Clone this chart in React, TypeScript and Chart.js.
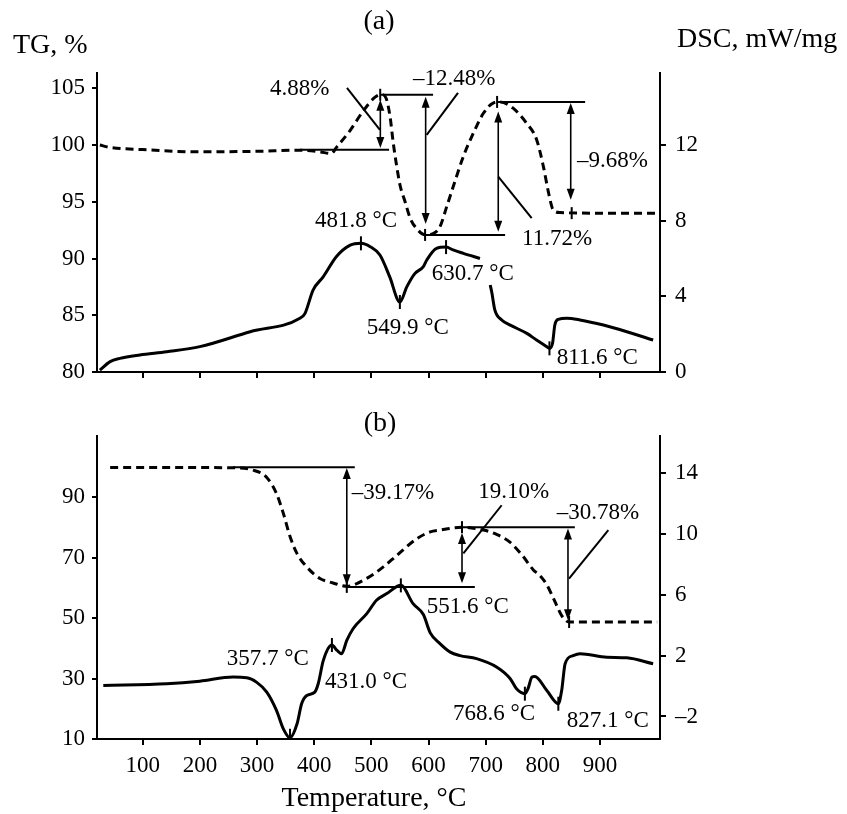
import React, { useEffect, useRef } from 'react';
import { Chart, registerables } from 'chart.js';

Chart.register(...registerables);

const FONT = '"Liberation Serif", "Times New Roman", serif';

// ---------- shared x axis ----------
const X_MIN = 20;
const X_MAX = 1005;
const X_TICKS = [100, 200, 300, 400, 500, 600, 700, 800, 900];

// ---------- panel (a) data ----------
const A_TG_T = [25, 42, 100, 200, 300, 375, 410, 430, 439, 463, 485, 506, 518, 526, 533, 538, 544, 550, 559, 568, 579, 594, 608, 620, 632, 643, 661, 678, 696, 713, 725, 748, 772, 789, 801, 810, 818, 830, 900, 1000];
const A_TG_V = [100, 99.8, 99.6, 99.4, 99.45, 99.55, 99.4, 99.25, 99.8, 101.3, 102.95, 104.2, 104.45, 104.1, 102.4, 100.3, 98.25, 96.5, 95.0, 93.55, 92.65, 92.1, 92.2, 92.8, 94.6, 96.3, 99.0, 101.0, 102.8, 103.7, 103.8, 103.25, 101.9, 100.5, 98.1, 95.8, 94.3, 94.05, 94.0, 94.0];

const A_DSC_T = [25, 43, 60, 95, 142, 200, 288, 375, 384, 398, 416, 439, 463, 481.8, 498, 515, 532, 549.9, 562, 576, 591, 597, 614, 630.7, 643, 661, 690, 699, 708, 711, 716, 728, 743, 772, 789, 807, 811.6, 817, 821, 827, 842, 865, 906, 947, 993];
const A_DSC_V = [0.1, 0.55, 0.72, 0.9, 1.07, 1.34, 2.13, 2.84, 3.1, 4.33, 5.04, 6.1, 6.7, 6.8, 6.62, 6.18, 5.04, 3.7, 4.5, 5.2, 5.57, 5.92, 6.53, 6.6, 6.45, 6.27, 6.0, null, 4.6, 4.16, 3.28, 2.75, 2.48, 2.04, 1.69, 1.34, 1.25, 1.52, 2.48, 2.78, 2.84, 2.75, 2.48, 2.13, 1.69];

const A_LEFT_TICKS = [80, 85, 90, 95, 100, 105];
const A_RIGHT_TICKS = [0, 4, 8, 12];

// annotations (a): [y, x1, x2] on TG axis
const A_HLINES = [[99.58, 375, 531], [104.43, 515, 608], [92.08, 594, 734], [103.8, 720, 874]];
// arrows: [x, y1, y2]
const A_ARROWS = [[515.7, 103.99, 99.75], [595, 104.25, 93.05], [722, 102.95, 92.37], [848.8, 103.7, 95.17]];
// leader lines: [x1, y1, x2, y2]
const A_LEADERS = [[457.3, 105.04, 515, 101.34], [596.8, 100.9, 651.6, 104.6], [722, 97.22, 780.5, 93.55]];
const A_TG_MARKS = [[515.5, 104.43], [594, 92.08], [720, 103.8], [850.5, 94.0]];
const A_DSC_MARKS = [[481.8, 6.8, 'both'], [549.9, 3.7, 'both'], [630.7, 6.6, 'both'], [811.6, 1.25, 'both']];
// labels: [text, x, yTG]
const A_LABELS = [
  ['4.88%', 322.7, 104.96],
  ['\u201312.48%', 572.9, 105.84],
  ['\u20139.68%', 860, 98.6],
  ['11.72%', 763.6, 91.7],
  ['481.8 \u00B0C', 401.4, 93.27],
  ['549.9 \u00B0C', 491.9, 83.92],
  ['630.7 \u00B0C', 605.6, 88.64],
  ['811.6 \u00B0C', 824.3, 81.21],
];

// ---------- panel (b) data ----------
const B_TG_T = [43, 142, 258, 293, 317, 334, 346, 358, 370, 387, 410, 433, 457, 492, 521, 545, 580, 603, 620, 658, 696, 720, 743, 765, 783, 795, 807, 821, 833, 846, 900, 1000];
const B_TG_V = [99.8, 99.8, 99.7, 98.9, 96.5, 91.2, 84.6, 76.8, 71.3, 66.9, 63.1, 61.6, 60.5, 63.1, 66.9, 70.8, 76.3, 78.5, 79.1, 80.0, 79.1, 77.6, 75.0, 70.5, 66.0, 64.0, 61.0, 55.5, 50.8, 48.7, 48.7, 48.7];

const B_DSC_T = [31, 142, 200, 258, 282, 299, 317, 334, 346, 357.7, 370, 378, 387, 401, 407, 416, 431, 440, 448, 457, 468, 492, 509, 527, 551.6, 573, 591, 603, 620, 638, 655, 684, 719, 743, 754, 768.6, 774, 781, 786, 807, 827.1, 833, 839, 853, 865, 912, 947, 993];
const B_DSC_V = [0.04, 0.15, 0.32, 0.59, 0.55, 0.26, -0.4, -1.6, -2.81, -3.4, -2.48, -1.16, -0.62, -0.4, 0.15, 1.69, 2.7, 2.34, 2.13, 3.0, 3.77, 4.76, 5.64, 6.08, 6.62, 5.42, 4.7, 3.5, 2.79, 2.23, 2.0, 1.8, 1.25, 0.48, -0.18, -0.5, -0.18, 0.59, 0.63, -0.29, -1.16, -0.29, 1.47, 2.0, 2.13, 1.9, 1.86, 1.47];

const B_LEFT_TICKS = [10, 30, 50, 70, 90];
const B_RIGHT_TICKS = [-2, 2, 6, 10, 14];

const B_HLINES = [[99.83, 258, 471], [60.3, 457, 681], [80.05, 655, 856]];
const B_ARROWS = [[457, 99.6, 60.85], [658.6, 78.1, 61.5], [844, 79.6, 49.25]];
const B_LEADERS = [[661, 71.35, 728, 87.3], [845.8, 63.06, 914.6, 79.06]];
const B_TG_MARKS = [[457, 60.3], [658.6, 80.05], [846, 48.7]];
const B_DSC_MARKS = [[357.7, -3.4, 'up'], [431, 2.7, 'both'], [551.6, 6.62, 'both'], [768.6, -0.5, 'both'], [827.1, -1.16, 'both']];
const B_LABELS = [
  ['\u201339.17%', 465.6, 91.5],
  ['19.10%', 687, 91.75],
  ['\u201330.78%', 824.3, 84.86],
  ['357.7 \u00B0C', 247, 36.57],
  ['431.0 \u00B0C', 418.9, 28.8],
  ['551.6 \u00B0C', 596.8, 53.66],
  ['768.6 \u00B0C', 643, 18.35],
  ['827.1 \u00B0C', 841.8, 16.13],
];

// ---------- helpers ----------
const pts = (xs: number[], ys: (number | null)[]) => xs.map((x, i) => ({ x, y: ys[i] }));

const fmt = (v: number) => (v < 0 ? '\u2013' + Math.abs(v) : String(v));

function annotPlugin(a: any) {
  return {
    id: 'annot' + a.key,
    afterDatasetsDraw(chart: any) {
      const ctx = chart.ctx as CanvasRenderingContext2D;
      const sx = chart.scales.x;
      const yl = chart.scales.yL;
      const yr = chart.scales.yR;
      const X = (v: number) => sx.getPixelForValue(v);
      const YL = (v: number) => yl.getPixelForValue(v);
      const YR = (v: number) => yr.getPixelForValue(v);
      ctx.save();
      ctx.strokeStyle = '#000';
      ctx.fillStyle = '#000';
      ctx.lineWidth = 2;
      ctx.setLineDash([]);
      const seg = (x1: number, y1: number, x2: number, y2: number) => {
        ctx.beginPath();
        ctx.moveTo(x1, y1);
        ctx.lineTo(x2, y2);
        ctx.stroke();
      };
      for (const h of a.hlines) seg(X(h[1]), YL(h[0]), X(h[2]), YL(h[0]));
      for (const l of a.leaders) seg(X(l[0]), YL(l[1]), X(l[2]), YL(l[3]));
      const head = (x: number, tipY: number, dir: number) => {
        ctx.beginPath();
        ctx.moveTo(x, tipY);
        ctx.lineTo(x - 4, tipY + dir * 11);
        ctx.lineTo(x + 4, tipY + dir * 11);
        ctx.closePath();
        ctx.fill();
      };
      for (const ar of a.arrows) {
        const px = X(ar[0]);
        const p1 = YL(ar[1]);
        const p2 = YL(ar[2]);
        const top = Math.min(p1, p2);
        const bot = Math.max(p1, p2);
        ctx.lineWidth = 1.6;
        seg(px, top + 6, px, bot - 6);
        head(px, top, 1);
        head(px, bot, -1);
        ctx.lineWidth = 2;
      }
      for (const m of a.tgMarks) {
        const px = X(m[0]);
        const py = YL(m[1]);
        seg(px, py - 6, px, py + 6);
      }
      for (const m of a.dscMarks) {
        const px = X(m[0]);
        const py = YR(m[1]);
        if (m[2] === 'up') seg(px, py - 9, px, py);
        else seg(px, py - 7, px, py + 7);
      }
      ctx.font = '23px ' + FONT;
      ctx.textAlign = 'left';
      ctx.textBaseline = 'middle';
      for (const t of a.labels) ctx.fillText(t[0], X(t[1]), YL(t[2]));
      ctx.restore();
    },
    afterDraw(chart: any) {
      const ctx = chart.ctx as CanvasRenderingContext2D;
      ctx.save();
      ctx.fillStyle = '#000';
      ctx.font = '28px ' + FONT;
      ctx.textBaseline = 'alphabetic';
      for (const t of a.texts) {
        ctx.textAlign = t[3];
        ctx.fillText(t[0], t[1], t[2]);
      }
      ctx.restore();
    },
  };
}

function makeConfig(p: any): any {
  const tickFont = { family: FONT, size: 23 };
  return {
    type: 'line',
    data: {
      datasets: [
        {
          data: pts(p.tgT, p.tgV),
          yAxisID: 'yL',
          borderColor: '#000',
          borderWidth: 3,
          borderDash: [8, 5],
          pointRadius: 0,
          cubicInterpolationMode: 'monotone',
          fill: false,
          spanGaps: false,
        },
        {
          data: pts(p.dscT, p.dscV),
          yAxisID: 'yR',
          borderColor: '#000',
          borderWidth: 3,
          pointRadius: 0,
          cubicInterpolationMode: 'monotone',
          fill: false,
          spanGaps: false,
        },
      ],
    },
    options: {
      responsive: false,
      animation: false,
      devicePixelRatio: 1,
      layout: { padding: { top: p.padTop, left: 0, right: 0, bottom: 0 } },
      plugins: { legend: { display: false }, tooltip: { enabled: false }, title: { display: false } },
      events: [],
      scales: {
        x: {
          type: 'linear',
          min: X_MIN,
          max: X_MAX,
          afterBuildTicks: (s: any) => {
            s.ticks = X_TICKS.map((v) => ({ value: v }));
          },
          afterFit: (s: any) => {
            s.height = p.xH;
          },
          ticks: {
            autoSkip: false,
            maxRotation: 0,
            padding: 7,
            color: '#000',
            font: tickFont,
            callback: (v: number) => (p.showX ? String(v) : ''),
          },
          grid: { display: true, drawOnChartArea: false, drawTicks: true, tickLength: 6, color: '#000', lineWidth: 2 },
          border: { display: true, color: '#000', width: 2 },
        },
        yL: {
          type: 'linear',
          position: 'left',
          min: p.lMin,
          max: p.lMax,
          afterBuildTicks: (s: any) => {
            s.ticks = p.lTicks.map((v: number) => ({ value: v }));
          },
          afterFit: (s: any) => {
            s.width = 97;
          },
          ticks: { padding: 7, color: '#000', font: tickFont, callback: (v: number) => fmt(v) },
          grid: { display: true, drawOnChartArea: false, drawTicks: true, tickLength: 5, color: '#000', lineWidth: 2 },
          border: { display: true, color: '#000', width: 2 },
        },
        yR: {
          type: 'linear',
          position: 'right',
          min: p.rMin,
          max: p.rMax,
          afterBuildTicks: (s: any) => {
            s.ticks = p.rTicks.map((v: number) => ({ value: v }));
          },
          afterFit: (s: any) => {
            s.width = 187;
          },
          ticks: { padding: 9, color: '#000', font: tickFont, callback: (v: number) => fmt(v) },
          grid: { display: true, drawOnChartArea: false, drawTicks: true, tickLength: 6, color: '#000', lineWidth: 2 },
          border: { display: true, color: '#000', width: 2 },
        },
      },
    },
    plugins: [annotPlugin(p.annot)],
  };
}

const PANEL_A = {
  tgT: A_TG_T,
  tgV: A_TG_V,
  dscT: A_DSC_T,
  dscV: A_DSC_V,
  lMin: 80,
  lMax: 106.35,
  rMin: 0,
  rMax: 15.8,
  lTicks: A_LEFT_TICKS,
  rTicks: A_RIGHT_TICKS,
  padTop: 73,
  xH: 23,
  showX: false,
  annot: {
    key: 'a',
    hlines: A_HLINES,
    arrows: A_ARROWS,
    leaders: A_LEADERS,
    tgMarks: A_TG_MARKS,
    dscMarks: A_DSC_MARKS,
    labels: A_LABELS,
    texts: [
      ['(a)', 379, 29, 'center'],
      ['TG, %', 13, 53, 'left'],
      ['DSC, mW/mg', 677, 47, 'left'],
    ],
  },
};

const PANEL_B = {
  tgT: B_TG_T,
  tgV: B_TG_V,
  dscT: B_DSC_T,
  dscV: B_DSC_V,
  lMin: 10,
  lMax: 110.2,
  rMin: -3.48,
  rMax: 16.44,
  lTicks: B_LEFT_TICKS,
  rTicks: B_RIGHT_TICKS,
  padTop: 41,
  xH: 75,
  showX: true,
  annot: {
    key: 'b',
    hlines: B_HLINES,
    arrows: B_ARROWS,
    leaders: B_LEADERS,
    tgMarks: B_TG_MARKS,
    dscMarks: B_DSC_MARKS,
    labels: B_LABELS,
    texts: [
      ['(b)', 380, 36, 'center'],
      ['Temperature, \u00B0C', 374, 411, 'center'],
    ],
  },
};

export default function App() {
  const refA = useRef<HTMLCanvasElement>(null);
  const refB = useRef<HTMLCanvasElement>(null);
  useEffect(() => {
    const ca = new Chart(refA.current as HTMLCanvasElement, makeConfig(PANEL_A));
    const cb = new Chart(refB.current as HTMLCanvasElement, makeConfig(PANEL_B));
    return () => {
      ca.destroy();
      cb.destroy();
    };
  }, []);
  return (
    <div style={{ position: 'absolute', left: 0, top: 0, width: 847, height: 814, background: '#fff' }}>
      <canvas ref={refA} width={847} height={395} style={{ position: 'absolute', left: 0, top: 0 }} />
      <canvas ref={refB} width={847} height={419} style={{ position: 'absolute', left: 0, top: 395 }} />
    </div>
  );
}
